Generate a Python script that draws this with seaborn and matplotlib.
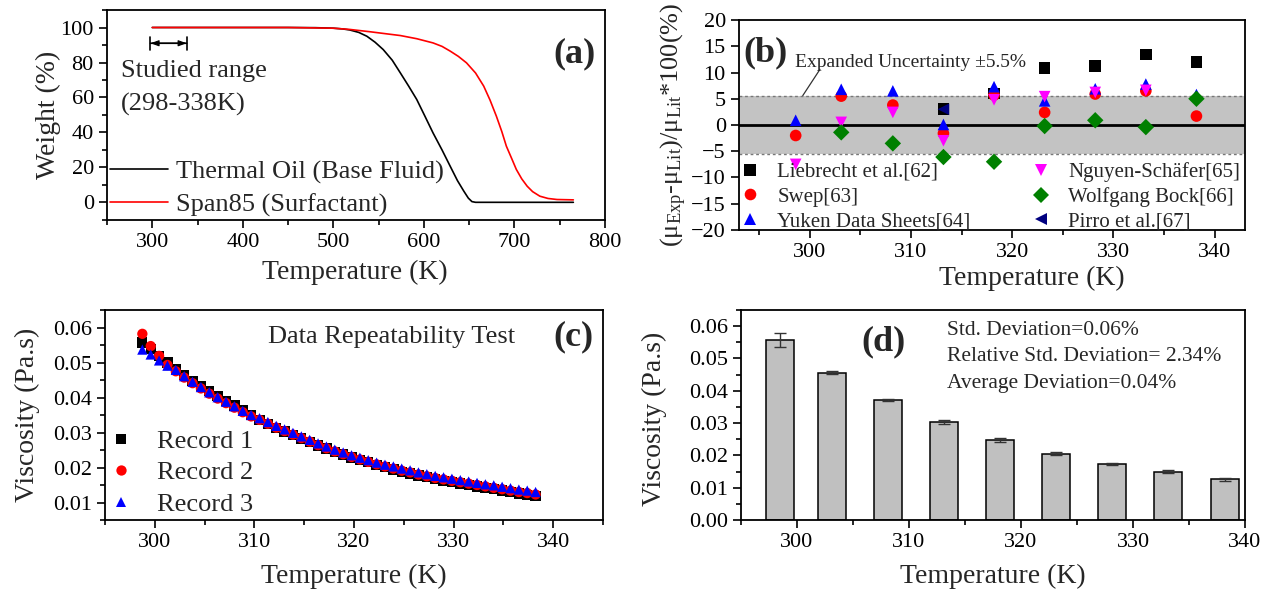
import numpy as np
import pandas as pd
import seaborn as sns
import matplotlib as mpl
import matplotlib.pyplot as plt
import matplotlib.ticker as mticker

mpl.use('Agg')

# ---- (a) TGA curves ----
tga_oil_temp = [300, 400, 450, 480, 500, 510, 518, 528, 537, 546, 555, 565, 574, 583, 592, 601,
                610, 620, 629, 637, 644, 649, 653, 657, 700, 765]
tga_oil_weight = [100, 100, 100, 99.9, 99.6, 99.2, 98.6, 97.2, 95.0, 91.6, 87.4, 81.3, 74.0, 66.6, 58.9, 49.4,
                  39.8, 30.0, 20.7, 12.5, 6.5, 2.5, 0.5, 0.1, 0.1, 0.1]
tga_span_temp = [300, 400, 450, 500, 518, 540, 560, 574, 592, 610, 620, 629, 638, 647, 657, 666, 673,
                 680, 686, 691, 697, 702, 708, 714, 720, 728, 737, 747, 765]
tga_span_weight = [100, 100, 100, 99.6, 98.9, 97.6, 96.3, 95.4, 93.6, 91.2, 89.2, 86.5, 83.5, 79.8, 74.0, 66.5, 58.5,
                   49.3, 40.5, 32.2, 25.0, 18.9, 13.5, 9.3, 6.2, 3.6, 2.3, 1.7, 1.5]

# ---- (b) deviation from literature ----
dev_temp = [298.6, 303.1, 308.2, 313.2, 318.2, 323.2, 328.2, 333.2, 338.2]
liebrecht_temp = [313.2, 318.2, 323.2, 328.2, 333.2, 338.2]
liebrecht_dev = [3.0, 6.0, 10.9, 11.2, 13.4, 12.0]
swep_dev = [-2.0, 5.5, 3.8, -1.6, 5.7, 2.4, 5.9, 6.5, 1.7]
yuken_dev = [0.9, 6.8, 6.5, 0.1, 7.3, 4.6, 6.9, 7.8, 5.8]
nguyen_temp = [298.6, 303.1, 308.2, 313.2, 318.2, 323.2, 328.2, 333.2]
nguyen_dev = [-7.5, 0.5, 2.4, -3.0, 4.8, 5.4, 6.2, 6.6]
bock_temp = [303.1, 308.2, 313.2, 318.2, 323.2, 328.2, 333.2, 338.2]
bock_dev = [-1.4, -3.5, -6.1, -7.0, -0.2, 0.9, -0.4, 5.0]
pirro_temp = [313.2]
pirro_dev = [3.0]
uncertainty = 5.5

# ---- (c) repeatability records ----
rec_temp = [298.75, 299.59, 300.43, 301.27, 302.11, 302.95, 303.79, 304.63, 305.47, 306.31,
            307.15, 307.99, 308.83, 309.67, 310.51, 311.35, 312.19, 313.03, 313.87, 314.71,
            315.55, 316.39, 317.23, 318.07, 318.91, 319.75, 320.59, 321.43, 322.27, 323.11,
            323.95, 324.79, 325.63, 326.47, 327.31, 328.15, 328.99, 329.83, 330.67, 331.51,
            332.35, 333.19, 334.03, 334.87, 335.71, 336.55, 337.39, 338.23]
record_1 = [.0557, .0539, .0519, .0500, .0482, .0464, .0448, .0433, .0418, .0404,
            .0390, .0377, .0364, .0351, .0335, .0324, .0313, .0303, .0293, .0283,
            .0273, .0263, .0254, .0245, .0237, .0229, .0222, .0215, .0208, .0202,
            .0194, .0188, .0183, .0177, .0172, .0167, .0162, .0158, .0154, .0150,
            .0146, .0142, .0138, .0134, .0130, .0126, .0122, .0118]
record_2 = [.0582, .0547, .0519, .0493, .0475, .0457, .0441, .0426, .0411, .0397,
            .0384, .0371, .0358, .0346, .0336, .0325, .0314, .0304, .0294, .0284,
            .0274, .0264, .0255, .0246, .0238, .0230, .0223, .0216, .0209, .0203,
            .0197, .0191, .0186, .0180, .0175, .0170, .0166, .0162, .0158, .0154,
            .0150, .0146, .0142, .0138, .0134, .0130, .0127, .0123]
record_3 = [.0537, .0523, .0506, .0491, .0479, .0461, .0445, .0430, .0415, .0401,
            .0388, .0375, .0362, .0350, .0341, .0330, .0319, .0309, .0299, .0289,
            .0279, .0269, .0260, .0251, .0243, .0235, .0228, .0221, .0214, .0208,
            .0203, .0197, .0192, .0186, .0181, .0176, .0172, .0168, .0164, .0160,
            .0156, .0152, .0149, .0145, .0141, .0137, .0134, .0130]

# ---- (d) mean viscosity with error bars ----
bar_temp = [298.5, 303.1, 308.1, 313.1, 318.1, 323.1, 328.1, 333.1, 338.2]
bar_visc = [0.0557, 0.0456, 0.0371, 0.0304, 0.0247, 0.0205, 0.0173, 0.0149, 0.0126]
bar_err = [0.0022, 0.0004, 0.0003, 0.0007, 0.0006, 0.0005, 0.0004, 0.0005, 0.0004]


def style_axis(ax, xmajor, xminor, ymajor, yminor):
    ax.xaxis.set_major_locator(mticker.MultipleLocator(xmajor))
    ax.xaxis.set_minor_locator(mticker.MultipleLocator(xminor))
    ax.yaxis.set_major_locator(mticker.MultipleLocator(ymajor))
    if yminor:
        ax.yaxis.set_minor_locator(mticker.MultipleLocator(yminor))
    ax.tick_params(which='both', direction='out', top=False, right=False, width=1.2, colors='black', labelsize=16)
    ax.tick_params(which='major', length=6)
    ax.tick_params(which='minor', length=3.5)
    for s in ax.spines.values():
        s.set_visible(True)
        s.set_linewidth(1.3)
        s.set_color('black')


def main():
    sns.set_style('ticks')
    plt.rcParams['font.family'] = ['Liberation Serif', 'DejaVu Serif']
    plt.rcParams['mathtext.fontset'] = 'custom'
    plt.rcParams['mathtext.rm'] = 'Liberation Serif'
    plt.rcParams['mathtext.it'] = 'Liberation Serif:italic'

    fig = plt.figure(figsize=(12.65, 5.92), dpi=100)
    ax_a = fig.add_axes([0.0846, 0.6284, 0.3937, 0.3547])
    ax_b = fig.add_axes([0.5842, 0.6115, 0.4000, 0.3547])
    ax_c = fig.add_axes([0.0830, 0.1216, 0.3937, 0.3547])
    ax_d = fig.add_axes([0.5858, 0.1216, 0.3984, 0.3547])

    # (a)
    tga = pd.concat([
        pd.DataFrame({'T': tga_oil_temp, 'W': tga_oil_weight, 'fluid': 'Thermal Oil (Base Fluid)'}),
        pd.DataFrame({'T': tga_span_temp, 'W': tga_span_weight, 'fluid': 'Span85 (Surfactant)'}),
    ])
    sns.lineplot(data=tga, x='T', y='W', hue='fluid', palette=['black', 'red'], linewidth=1.2, ax=ax_a)
    ax_a.set_xlim(250, 800)
    ax_a.set_ylim(-10, 110)
    style_axis(ax_a, 100, 50, 20, 10)
    sns.move_legend(ax_a, 'lower left', bbox_to_anchor=(-0.021, -0.048), frameon=False, title='',
                    fontsize=19, handlelength=2.2, handletextpad=0.3, labelspacing=0.35, borderaxespad=0.1)
    ax_a.annotate('', xy=(298, 91), xytext=(338, 91),
                  arrowprops=dict(arrowstyle='|-|,widthA=0.45,widthB=0.45', lw=1.2, color='black',
                                  shrinkA=0, shrinkB=0))
    ax_a.annotate('', xy=(298, 91), xytext=(338, 91),
                  arrowprops=dict(arrowstyle='<|-|>,head_length=0.5,head_width=0.18', lw=0.8, color='black',
                                  shrinkA=0, shrinkB=0))
    ax_a.text(265, 75, 'Studied range', fontsize=19, va='center')
    ax_a.text(265, 56, '(298-338K)', fontsize=19, va='center')
    ax_a.text(790, 85, '(a)', fontsize=26, fontweight='bold', ha='right', va='center')
    ax_a.set_xlabel('Temperature (K)', fontsize=20)
    ax_a.set_ylabel('Weight (%)', fontsize=20)
    ax_a.xaxis.set_label_coords(0.498, -0.248)
    ax_a.yaxis.set_label_coords(-0.118, 0.5)

    # (b)
    sources = ['Liebrecht et al.[62]', 'Swep[63]', 'Yuken Data Sheets[64]',
               'Nguyen-Schäfer[65]', 'Wolfgang Bock[66]', 'Pirro et al.[67]']
    dev = pd.concat([
        pd.DataFrame({'T': liebrecht_temp, 'dev': liebrecht_dev, 'src': sources[0]}),
        pd.DataFrame({'T': dev_temp, 'dev': swep_dev, 'src': sources[1]}),
        pd.DataFrame({'T': dev_temp, 'dev': yuken_dev, 'src': sources[2]}),
        pd.DataFrame({'T': nguyen_temp, 'dev': nguyen_dev, 'src': sources[3]}),
        pd.DataFrame({'T': bock_temp, 'dev': bock_dev, 'src': sources[4]}),
        pd.DataFrame({'T': pirro_temp, 'dev': pirro_dev, 'src': sources[5]}),
    ])
    ax_b.axhspan(-uncertainty, uncertainty, color='#c3c3c3', zorder=0, lw=0)
    ax_b.axhline(uncertainty, color='#777777', ls=(0, (2, 2)), lw=1, zorder=1)
    ax_b.axhline(-uncertainty, color='#777777', ls=(0, (2, 2)), lw=1, zorder=1)
    ax_b.axhline(0, color='black', lw=2, zorder=1)
    palette = dict(zip(sources, ['black', 'red', 'blue', '#ff00ff', '#008000', '#000080']))
    markers = dict(zip(sources, ['s', 'o', '^', 'v', 'D', '<']))
    sns.scatterplot(data=dev, x='T', y='dev', hue='src', style='src', hue_order=sources,
                    style_order=sources, palette=palette, markers=markers, s=70, linewidth=0,
                    zorder=3, ax=ax_b)
    ax_b.set_xlim(293, 343)
    ax_b.set_ylim(-20, 20)
    style_axis(ax_b, 10, 5, 5, None)
    sns.move_legend(ax_b, 'lower left', bbox_to_anchor=(-0.019, -0.058), ncol=2, frameon=False, title='',
                    fontsize=15, handlelength=1.0, handletextpad=0.8, labelspacing=0.25,
                    columnspacing=2.9, borderaxespad=0.1)
    ax_b.text(298.5, 12, 'Expanded Uncertainty ±5.5%', fontsize=14, va='center')
    ax_b.plot([301, 299.3], [10.6, 5.6], color='#333333', lw=0.9)
    ax_b.text(293.4, 13.8, '(b)', fontsize=26, fontweight='bold', va='center')
    ax_b.set_xlabel('Temperature (K)', fontsize=20)
    ax_b.set_ylabel('(μ$_\\mathrm{Exp}$-μ$_\\mathrm{Lit}$)/μ$_\\mathrm{Lit}$*100(%)', fontsize=19)
    ax_b.xaxis.set_label_coords(0.579, -0.229)
    ax_b.yaxis.set_label_coords(-0.128, 0.5)

    # (c)
    rec = pd.concat([
        pd.DataFrame({'T': rec_temp, 'v': record_1, 'rec': 'Record 1'}),
        pd.DataFrame({'T': rec_temp, 'v': record_2, 'rec': 'Record 2'}),
        pd.DataFrame({'T': rec_temp, 'v': record_3, 'rec': 'Record 3'}),
    ])
    rec_names = ['Record 1', 'Record 2', 'Record 3']
    sns.scatterplot(data=rec, x='T', y='v', hue='rec', style='rec', hue_order=rec_names,
                    style_order=rec_names, palette=['black', 'red', 'blue'],
                    markers=['s', 'o', '^'], s=55, linewidth=0, ax=ax_c)
    ax_c.set_xlim(295, 345)
    ax_c.set_ylim(0.005, 0.065)
    style_axis(ax_c, 10, 5, 0.01, 0.005)
    ax_c.yaxis.set_major_formatter(mticker.FormatStrFormatter('%.2f'))
    sns.move_legend(ax_c, 'lower left', bbox_to_anchor=(-0.02, -0.043), frameon=False, title='',
                    fontsize=19, handlelength=1.0, handletextpad=0.85, labelspacing=0.3, borderaxespad=0.1)
    ax_c.text(0.576, 0.87, 'Data Repeatability Test', transform=ax_c.transAxes, fontsize=19,
              ha='center', va='center')
    ax_c.text(0.98, 0.87, '(c)', transform=ax_c.transAxes, fontsize=26, fontweight='bold',
              ha='right', va='center')
    ax_c.set_xlabel('Temperature (K)', fontsize=20)
    ax_c.set_ylabel('Viscosity (Pa.s)', fontsize=20)
    ax_c.xaxis.set_label_coords(0.5, -0.271)
    ax_c.yaxis.set_label_coords(-0.155, 0.5)

    # (d)
    sns.barplot(x=bar_temp, y=bar_visc, native_scale=True, width=0.55, color='#c0c0c0',
                saturation=1, edgecolor='black', linewidth=1.1, errorbar=None, ax=ax_d)
    ax_d.errorbar(bar_temp, bar_visc, yerr=bar_err, fmt='none', ecolor='#333333',
                  elinewidth=1, capsize=4, capthick=1)
    ax_d.set_xlim(295, 340)
    ax_d.set_ylim(0, 0.065)
    style_axis(ax_d, 10, 5, 0.01, 0.005)
    ax_d.yaxis.set_major_formatter(mticker.FormatStrFormatter('%.2f'))
    ax_d.text(307.7, 0.0551, '(d)', fontsize=26, fontweight='bold', ha='center', va='center')
    ax_d.text(313.4, 0.0588, 'Std. Deviation=0.06%', fontsize=15.5, va='center')
    ax_d.text(313.4, 0.0505, 'Relative Std. Deviation= 2.34%', fontsize=15.5, va='center')
    ax_d.text(313.4, 0.0424, 'Average Deviation=0.04%', fontsize=15.5, va='center')
    ax_d.set_xlabel('Temperature (K)', fontsize=20)
    ax_d.set_ylabel('Viscosity (Pa.s)', fontsize=20)
    ax_d.xaxis.set_label_coords(0.5, -0.271)
    ax_d.yaxis.set_label_coords(-0.171, 0.48)

    for ax in (ax_a, ax_b, ax_c, ax_d):
        ax.xaxis.label.set_va('center')
        ax.yaxis.label.set_va('center')

    fig.savefig('out.png', dpi=100, facecolor='white')


if __name__ == '__main__':
    main()
